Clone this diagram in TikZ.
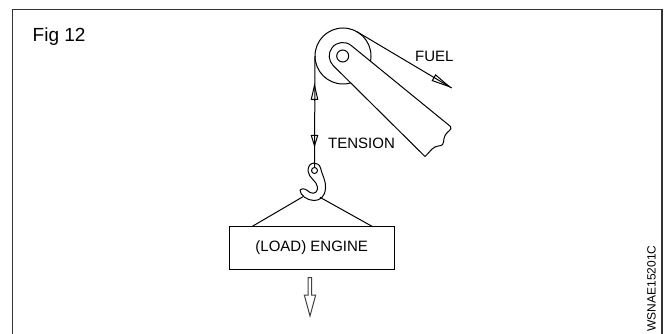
\documentclass[tikz,border=0pt]{standalone}
\usepackage{fontspec}
\setmainfont{Liberation Sans}
\usetikzlibrary{arrows.meta}
\begin{document}
\begin{tikzpicture}[x=1pt, y=-1pt,
    part/.style={line width=1pt, black},
    label/.style={inner sep=0pt, black, font=\fontsize{15}{15}\selectfont},
    hollow/.style={part, -{Triangle[open, length=#1, width=7.5pt]}},
  ]
    \useasboundingbox (0, 0) rectangle (664, 334);

    % frame, open at the bottom
    \draw[line width=1.3pt, black!80] (12.5, 334) -- (12.5, 9.5) -- (662, 9.5) -- (662, 334);
    \node[anchor=base west, inner sep=0pt, black, font=\fontsize{19}{19}\selectfont] (fig) at (32.5, 41.5) {Fig 12};
    \node[anchor=base, rotate=90, inner sep=0pt, black, font=\fontsize{12}{12}\selectfont] (code) at (655.5, 288.5) {WSNAE15201C};

    % pulley and arm
    \node[part, draw, circle, inner sep=0pt, outer sep=0pt, minimum size=56pt] (pulley) at (343, 56) {};
    \draw[part, fill=white, line join=round] (351.2, 45.5) arc[start angle=-51, end angle=-224.7, radius=13.5]
      -- (425, 156.5) .. controls (429, 153) and (431, 149) .. (435, 147)
      .. controls (439, 145) and (443, 147) .. (443.5, 142)
      .. controls (444, 137) and (445, 134) .. (449, 131)
      .. controls (451, 129.5) and (451.5, 128) .. (450.5, 126.5) -- cycle;
    \node[part, draw, circle, inner sep=0pt, minimum size=12pt] (pin) at (342.7, 56) {};

    % hook
    \node[part, draw, circle, inner sep=0pt, minimum size=6pt] (eye) at (314.5, 170.5) {};
    \draw[part, fill=white, line join=round] (320.5, 168) .. controls (322, 175) and (326, 180) .. (325.5, 188)
      .. controls (325, 197) and (320, 200.5) .. (314, 200.5)
      .. controls (307, 200.5) and (300, 195) .. (300, 190)
      .. controls (303, 187) and (307, 190) .. (310, 192.5)
      .. controls (315, 195) and (318, 191) .. (317.5, 187)
      .. controls (317, 181) and (308.5, 178) .. (308, 171)
      .. controls (307.5, 161) and (319, 161) .. (320.5, 168) -- cycle;
    \node[part, draw, circle, fill=white, inner sep=0pt, minimum size=6pt] at (eye) {};

    % load
    \node[part, draw, label, minimum width=165pt, minimum height=42.5pt] (engine) at (311.7, 248) {(LOAD) ENGINE};
    \coordinate (slingL) at (251.7, 226.7);
    \coordinate (slingR) at (372.7, 226.7);
    \coordinate (hookL) at (303, 196.7);
    \coordinate (hookR) at (320, 197.3);
    \draw[part] (slingL) -- (hookL);
    \draw[part] (slingR) -- (hookR);

    % tension line and fuel line
    \coordinate (fuelEnd) at (451.7, 88);
    \coordinate (fuelBase) at (433.5, 77.5);
    \coordinate (upBase) at (314.5, 100);
    \coordinate (upTip) at (314.5, 83);
    \coordinate (downBase) at (314.5, 135);
    \coordinate (downTip) at (314.5, 147.5);
    \draw[part] (pulley.west) -- (eye.north);
    \draw[part] (pulley.60) -- (fuelEnd);
    \draw[hollow=21pt] (fuelBase) -- (fuelEnd);
    \draw[hollow=17pt] (upBase) -- (upTip);
    \draw[hollow=12.5pt] (downBase) -- (downTip);

    % load arrow
    \draw[part, black!75] (308.2, 277.7) -- (311.6, 277.7) -- (311.6, 295) -- (315.7, 295) -- (310, 316)
      -- (304.3, 295) -- (308.2, 295) -- cycle;

    \node[label, anchor=base west] (fuel) at (415, 62) {FUEL};
    \node[label, anchor=base west] (tension) at (328, 148.5) {TENSION};
\end{tikzpicture}
\end{document}
